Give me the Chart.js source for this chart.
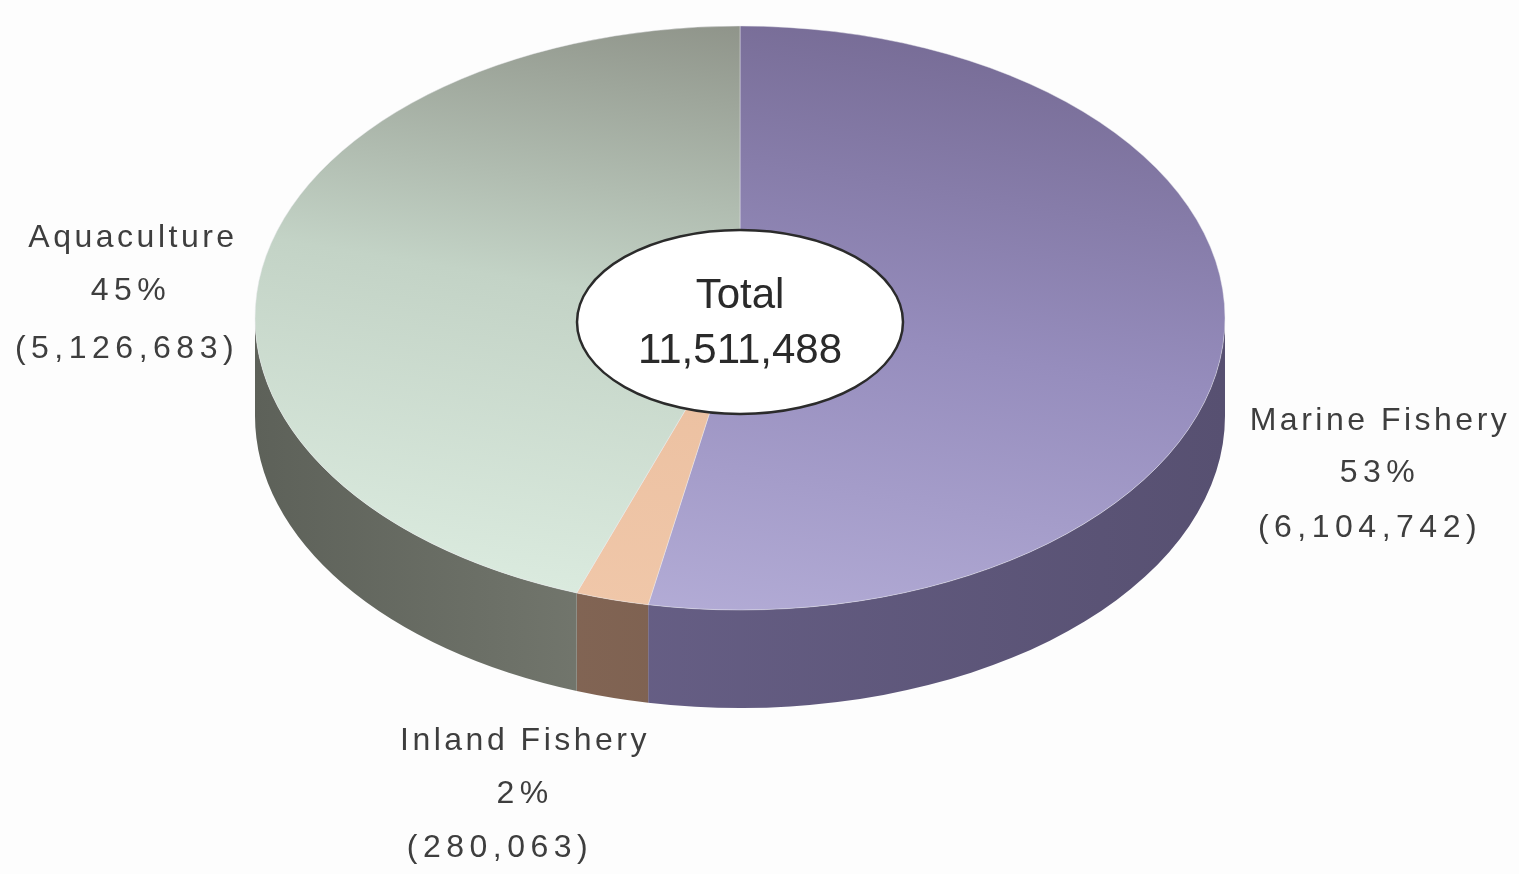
<!DOCTYPE html>
<html>
<head>
<meta charset="utf-8">
<script src="https://cdn.jsdelivr.net/npm/chart.js@4/dist/chart.umd.min.js"></script>
<style>
  html, body { margin: 0; padding: 0; background: #fdfdfd; overflow: hidden; }
  #wrap { width: 1519px; height: 874px; }
</style>
</head>
<body>
<div id="wrap"><canvas id="pie" width="1519" height="874"></canvas></div>
<script>
// Fish production by source
const categories = ['Marine Fishery', 'Inland Fishery', 'Aquaculture'];
const production = [6104742, 280063, 5126683];

// Disc geometry on screen: centre, vertical squash, wall height
const CX = 740, CY = 318, RADIUS = 485, TILT = 292 / 485, DEPTH = 98;

// Top face gradient (far, middle, near) and side wall gradient (left -> right)
const topColors = [
  ['#776c96', '#968dbd', '#b3acd6'],
  ['#e4b292', '#ebbf9f', '#f0c7a9'],
  ['#8b8f85', '#c3d3c6', '#dbebdf']
];
const sideColors = [
  ['#6f6791', '#575071'],
  ['#8a6c5b', '#6f5444'],
  ['#5d6159', '#9a9e92']
];

// Label placement: one x per line, baselines per line
const labelSpots = [
  { xs: [1380, 1380, 1370], ys: [430, 482, 537] },
  { xs: [525, 525, 500], ys: [750, 803, 857] },
  { xs: [133, 131, 127], ys: [247, 300, 358] }
];

const total = production.reduce((a, b) => a + b, 0);
const fmt = n => n.toLocaleString('en-US');

function topFill(c) {
  const i = c.dataIndex ?? 0;
  const area = c.chart.chartArea;
  if (!area) return topColors[i][0];
  const mx = (area.left + area.right) / 2, my = (area.top + area.bottom) / 2;
  const g = c.chart.ctx.createLinearGradient(mx + RADIUS * 0.3, my - RADIUS, mx - RADIUS * 0.25, my + RADIUS);
  g.addColorStop(0, topColors[i][0]);
  g.addColorStop(0.5, topColors[i][1]);
  g.addColorStop(1, topColors[i][2]);
  return g;
}

// Walls under the front half of each slice, then squash the pie into an ellipse
const disc3d = {
  id: 'disc3d',
  beforeDatasetsDraw(chart) {
    const ctx = chart.ctx;
    const arcs = chart.getDatasetMeta(0).data;
    arcs.forEach((arc, i) => {
      const p = arc.getProps(['startAngle', 'endAngle', 'outerRadius'], true);
      const a0 = Math.max(p.startAngle, 0), a1 = Math.min(p.endAngle, Math.PI);
      if (a1 <= a0) return;
      const r = p.outerRadius, ry = r * TILT;
      const g = ctx.createLinearGradient(CX - r, 0, CX + r, 0);
      g.addColorStop(0, sideColors[i][0]);
      g.addColorStop(1, sideColors[i][1]);
      ctx.save();
      ctx.beginPath();
      ctx.ellipse(CX, CY, r, ry, 0, a0, a1, false);
      ctx.ellipse(CX, CY + DEPTH, r, ry, 0, a1, a0, true);
      ctx.closePath();
      ctx.fillStyle = g;
      ctx.fill();
      ctx.restore();
    });
    const c = arcs[0];
    ctx.save();
    ctx.translate(CX, CY);
    ctx.scale(1, TILT);
    ctx.translate(-c.x, -c.y);
  },
  afterDatasetsDraw(chart) {
    chart.ctx.restore();
  },
  afterDraw(chart) {
    const ctx = chart.ctx;
    // total badge
    ctx.save();
    ctx.beginPath();
    ctx.ellipse(740, 322, 163, 92, 0, 0, Math.PI * 2);
    ctx.fillStyle = '#ffffff';
    ctx.fill();
    ctx.lineWidth = 2.5;
    ctx.strokeStyle = '#2b2b2b';
    ctx.stroke();
    ctx.fillStyle = '#2a2a2a';
    ctx.textAlign = 'center';
    ctx.textBaseline = 'alphabetic';
    ctx.font = '42px "Liberation Sans", Arial, sans-serif';
    ctx.fillText('Total', 740, 308);
    ctx.fillText(fmt(total), 740, 363);

    // slice labels
    ctx.fillStyle = '#3e3e3e';
    ctx.font = '32px "Liberation Sans", Arial, sans-serif';
    categories.forEach((name, i) => {
      const s = labelSpots[i];
      const pct = Math.round(production[i] / total * 100) + '%';
      const lines = [name, pct, '(' + fmt(production[i]) + ')'];
      lines.forEach((t, k) => {
        ctx.letterSpacing = k === 0 ? '3.5px' : '5.5px';
        ctx.fillText(t, s.xs[k], s.ys[k]);
      });
    });
    ctx.restore();
  }
};

new Chart(document.getElementById('pie'), {
  type: 'pie',
  data: {
    labels: categories,
    datasets: [{
      data: production,
      backgroundColor: topFill,
      borderColor: 'rgba(235,235,240,0.55)',
      borderWidth: 1,
      clip: false
    }]
  },
  options: {
    responsive: false,
    animation: false,
    devicePixelRatio: 1,
    radius: RADIUS,
    layout: { padding: 0 },
    plugins: {
      legend: { display: false },
      tooltip: { enabled: false }
    }
  },
  plugins: [disc3d]
});
</script>
</body>
</html>
